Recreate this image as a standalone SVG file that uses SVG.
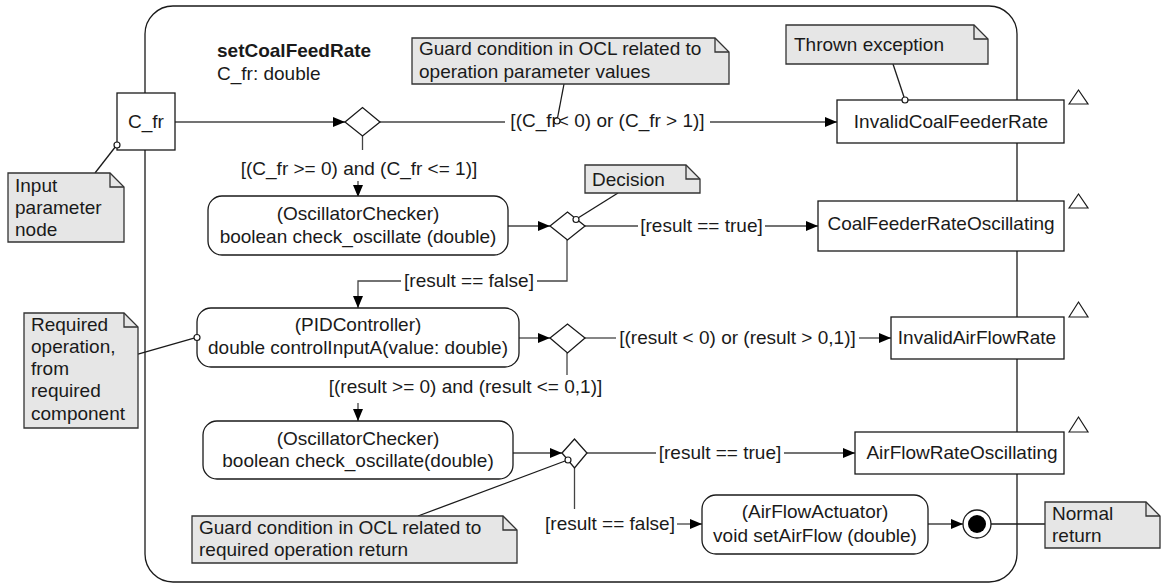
<svg xmlns="http://www.w3.org/2000/svg" width="1166" height="583" viewBox="0 0 1166 583">
<defs>
<marker id="arr" markerWidth="12" markerHeight="10" refX="12" refY="5" orient="auto" markerUnits="userSpaceOnUse">
<path d="M0,0 L12,5 L0,10 Z" fill="#000"/>
</marker>
<style>
text{font-family:"Liberation Sans",Arial,sans-serif;font-size:19px;fill:#1a1a1a}
.c{text-anchor:middle}
.b{font-weight:bold}
.box{fill:#fff;stroke:#1a1a1a;stroke-width:1.3}
.note{fill:#e6e6e6;stroke:#333;stroke-width:1.3}
.fold{fill:none;stroke:#333;stroke-width:1.3}
.ln{fill:none;stroke:#444;stroke-width:1.3}
.nl{fill:none;stroke:#1a1a1a;stroke-width:1.3}
.pin{fill:#fff;stroke:#1a1a1a;stroke-width:1.2}
.tri{fill:#fff;stroke:#1a1a1a;stroke-width:1.2}
</style>
</defs>
<rect width="1166" height="583" fill="#fff"/>

<g id="frame">
<rect x="145" y="6" width="872" height="576" rx="28" ry="28" fill="none" stroke="#1a1a1a" stroke-width="1.3"/>
<text x="217" y="57" class="b">setCoalFeedRate</text>
<text x="217" y="80">C_fr: double</text>
</g>

<g id="connectors">
<line class="ln" x1="175" y1="122" x2="345" y2="122" marker-end="url(#arr)"/>
<line class="ln" x1="380" y1="122" x2="505" y2="122"/>
<line class="ln" x1="710" y1="122" x2="837" y2="122" marker-end="url(#arr)"/>
<line class="ln" x1="362.5" y1="136" x2="362.5" y2="150"/>
<line class="ln" x1="358" y1="181" x2="358" y2="197" marker-end="url(#arr)"/>
<line class="ln" x1="508" y1="226" x2="550" y2="226" marker-end="url(#arr)"/>
<line class="ln" x1="585" y1="226" x2="638" y2="226"/>
<line class="ln" x1="765" y1="226" x2="818" y2="226" marker-end="url(#arr)"/>
<polyline class="ln" points="567,240 567,281 537,281"/>
<polyline class="ln" points="401,281 358,281 358,308" marker-end="url(#arr)"/>
<line class="ln" x1="519" y1="338" x2="550" y2="338" marker-end="url(#arr)"/>
<line class="ln" x1="585" y1="338" x2="616" y2="338"/>
<line class="ln" x1="859" y1="338" x2="891" y2="338" marker-end="url(#arr)"/>
<line class="ln" x1="567" y1="353" x2="567" y2="375"/>
<line class="ln" x1="358" y1="403" x2="358" y2="421" marker-end="url(#arr)"/>
<line class="ln" x1="513" y1="453" x2="562" y2="453" marker-end="url(#arr)"/>
<line class="ln" x1="587" y1="453" x2="656" y2="453"/>
<line class="ln" x1="784" y1="453" x2="855" y2="453" marker-end="url(#arr)"/>
<line class="ln" x1="574.5" y1="468" x2="574.5" y2="509"/>
<line class="ln" x1="677" y1="524" x2="702" y2="524" marker-end="url(#arr)"/>
<line class="ln" x1="928" y1="524" x2="963" y2="524" marker-end="url(#arr)"/>
<line class="nl" x1="991" y1="524" x2="1045" y2="524"/>
<text x="607.5" y="127" class="c">[(C_fr&lt; 0) or (C_fr &gt; 1)]</text>
<text x="359" y="175" class="c">[(C_fr &gt;= 0) and (C_fr &lt;= 1)]</text>
<text x="701.5" y="232" class="c">[result == true]</text>
<text x="469" y="287" class="c">[result == false]</text>
<text x="737.5" y="344" class="c">[(result &lt; 0) or (result &gt; 0,1)]</text>
<text x="465.5" y="393" class="c">[(result &gt;= 0) and (result &lt;= 0,1)]</text>
<text x="720" y="459" class="c">[result == true]</text>
<text x="610" y="530" class="c">[result == false]</text>
</g>

<g id="param-node">
<rect class="box" x="117" y="93" width="58" height="57"/>
<text x="146" y="128" class="c">C_fr</text>
</g>

<g id="decision1"><polygon class="box" points="345,122 362.5,107.5 380,122 362.5,136"/></g>
<g id="decision2"><polygon class="box" points="550,226 567.5,212 585,226 567.5,240"/></g>
<g id="decision3"><polygon class="box" points="550,338 567.5,324 585,338 567.5,353"/></g>
<g id="decision4"><polygon class="box" points="562,453 574.5,439 587,453 574.5,468"/></g>

<g id="ex-invalid-coal">
<rect class="box" x="837" y="100" width="227" height="43"/>
<text x="951" y="128" class="c">InvalidCoalFeederRate</text>
<polygon class="tri" points="1069,104 1078.5,90 1088,104"/>
</g>
<g id="ex-coal-osc">
<rect class="box" x="818" y="201" width="246" height="50"/>
<text x="941" y="230" class="c">CoalFeederRateOscillating</text>
<polygon class="tri" points="1069,208 1078.5,194 1088,208"/>
</g>
<g id="ex-invalid-air">
<rect class="box" x="891" y="317" width="173" height="42"/>
<text x="977" y="344" class="c">InvalidAirFlowRate</text>
<polygon class="tri" points="1069,317 1078.5,302 1088,317"/>
</g>
<g id="ex-air-osc">
<rect class="box" x="855" y="432" width="209" height="42"/>
<text x="962" y="459" class="c">AirFlowRateOscillating</text>
<polygon class="tri" points="1069,432 1078.5,417 1088,432"/>
</g>

<g id="action-osc1">
<rect class="box" x="208" y="196" width="300" height="59" rx="14" ry="14"/>
<text x="358" y="220" class="c">(OscillatorChecker)</text>
<text x="358" y="243" class="c">boolean check_oscillate (double)</text>
</g>
<g id="action-pid">
<rect class="box" x="197" y="308" width="322" height="59" rx="14" ry="14"/>
<text x="358" y="331" class="c">(PIDController)</text>
<text x="358" y="354" class="c">double controlInputA(value: double)</text>
</g>
<g id="action-osc2">
<rect class="box" x="203" y="421" width="310" height="58" rx="14" ry="14"/>
<text x="358" y="445" class="c">(OscillatorChecker)</text>
<text x="358" y="467" class="c">boolean check_oscillate(double)</text>
</g>
<g id="action-actuator">
<rect class="box" x="702" y="495" width="226" height="59" rx="14" ry="14"/>
<text x="815" y="518" class="c">(AirFlowActuator)</text>
<text x="815" y="542" class="c">void setAirFlow (double)</text>
</g>

<g id="final">
<circle cx="977" cy="524" r="14" fill="#fff" stroke="#1a1a1a" stroke-width="1.3"/>
<circle cx="977" cy="524" r="9" fill="#000"/>
</g>

<g id="note-input">
<line class="nl" x1="95" y1="173" x2="116" y2="146"/>
<circle class="pin" cx="117" cy="145" r="3"/>
<path class="note" d="M8,173 H110 L124,187 V242 H8 Z"/>
<path class="fold" d="M110,173 V187 H124"/>
<text x="15" y="192">Input</text>
<text x="15" y="214">parameter</text>
<text x="15" y="236">node</text>
</g>

<g id="note-guard1">
<line class="nl" x1="564" y1="84" x2="557.5" y2="118"/>
<circle class="pin" cx="557" cy="121" r="3"/>
<path class="note" d="M412,38 H715 L729,52 V84 H412 Z"/>
<path class="fold" d="M715,38 V52 H729"/>
<text x="419" y="55">Guard condition in OCL related to</text>
<text x="419" y="78">operation parameter values</text>
</g>

<g id="note-thrown">
<line class="nl" x1="893" y1="64" x2="904" y2="97"/>
<circle class="pin" cx="905" cy="100" r="3"/>
<path class="note" d="M786,25 H974 L988,39 V64 H786 Z"/>
<path class="fold" d="M974,25 V39 H988"/>
<text x="794" y="51">Thrown exception</text>
</g>

<g id="note-decision">
<line class="nl" x1="618" y1="193" x2="578" y2="218"/>
<circle class="pin" cx="576" cy="219.5" r="3"/>
<path class="note" d="M585,165 H686 L700,179 V193 H585 Z"/>
<path class="fold" d="M686,165 V179 H700"/>
<text x="592" y="186">Decision</text>
</g>

<g id="note-required">
<line class="nl" x1="138" y1="354" x2="194" y2="338"/>
<circle class="pin" cx="197" cy="337.5" r="3"/>
<path class="note" d="M24,313 H124 L138,327 V428 H24 Z"/>
<path class="fold" d="M124,313 V327 H138"/>
<text x="31" y="331">Required</text>
<text x="31" y="353">operation,</text>
<text x="31" y="375">from</text>
<text x="31" y="397">required</text>
<text x="31" y="420">component</text>
</g>

<g id="note-guard2">
<line class="nl" x1="418" y1="516" x2="565" y2="461"/>
<circle class="pin" cx="568" cy="460" r="3"/>
<path class="note" d="M192,516 H503 L517,530 V563 H192 Z"/>
<path class="fold" d="M503,516 V530 H517"/>
<text x="199" y="534">Guard condition in OCL related to</text>
<text x="199" y="556">required operation return</text>
</g>

<g id="note-normal">
<path class="note" d="M1045,502 H1146 L1160,516 V548 H1045 Z"/>
<path class="fold" d="M1146,502 V516 H1160"/>
<text x="1052" y="520">Normal</text>
<text x="1052" y="542">return</text>
</g>
</svg>
